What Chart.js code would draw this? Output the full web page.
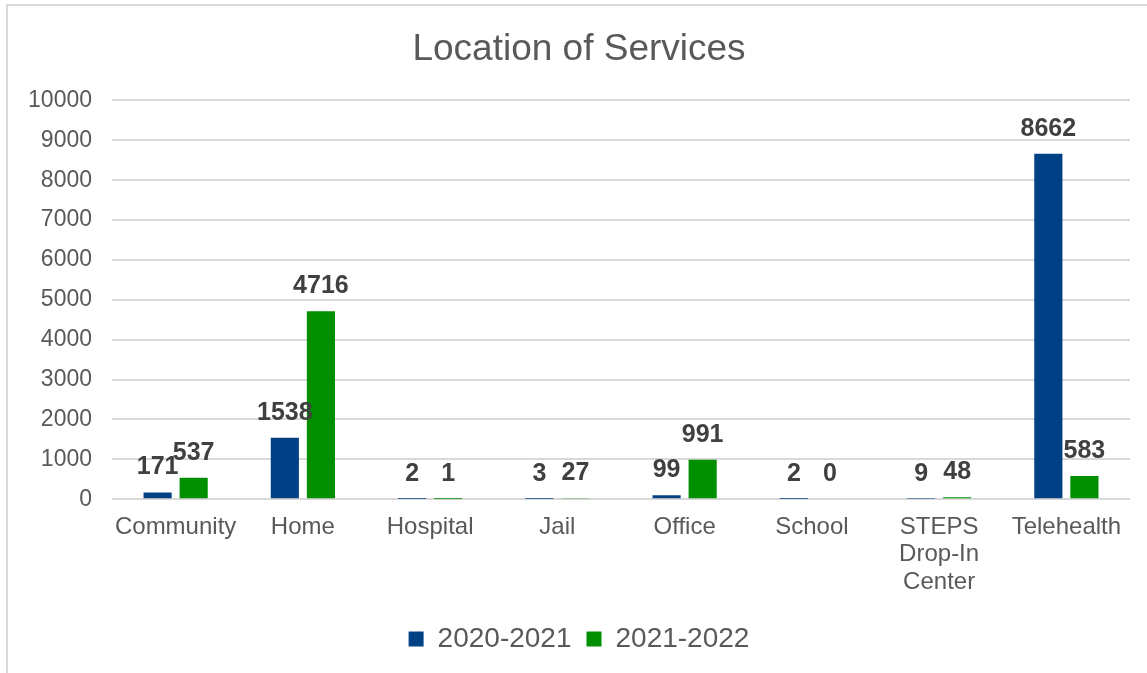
<!DOCTYPE html>
<html>
<head>
<meta charset="utf-8">
<script src="https://cdn.jsdelivr.net/npm/chart.js@4.4.1/dist/chart.umd.min.js"></script>
<style>
  html, body { margin: 0; padding: 0; background: #fff; overflow: hidden; }
  #frame {
    position: absolute; left: 6px; top: 4px; width: 1200px; height: 720px;
    border-left: 2px solid #d9d9d9; border-top: 2px solid #d9d9d9;
  }
  #chart { position: absolute; left: 0; top: 0; }
</style>
</head>
<body>
<div id="frame"></div>
<canvas id="chart" width="1147" height="673"></canvas>
<script>
// locations and visit counts per fiscal year
const locations = ['Community', 'Home', 'Hospital', 'Jail', 'Office', 'School', ['STEPS', 'Drop-In', 'Center'], 'Telehealth'];
const year2021 = [171, 1538, 2, 3, 99, 2, 9, 8662];
const year2022 = [537, 4716, 1, 27, 991, 0, 48, 583];
const seriesNames = ['2020-2021', '2021-2022'];
const yTicks = [0, 1000, 2000, 3000, 4000, 5000, 6000, 7000, 8000, 9000, 10000];

const FONT = "'Liberation Sans', Arial, sans-serif";
const TEXT = '#595959';

// value labels above each bar
const barValues = {
  id: 'barValues',
  afterDatasetsDraw(chart) {
    const ctx = chart.ctx;
    ctx.save();
    ctx.font = 'bold 25px ' + FONT;
    ctx.fillStyle = '#404040';
    ctx.textAlign = 'center';
    ctx.textBaseline = 'alphabetic';
    chart.data.datasets.forEach((ds, i) => {
      chart.getDatasetMeta(i).data.forEach((bar, j) => {
        ctx.fillText(String(ds.data[j]), bar.x, bar.y - 18);
      });
    });
    ctx.restore();
  }
};

new Chart(document.getElementById('chart'), {
  type: 'bar',
  data: {
    labels: locations,
    datasets: [
      { label: seriesNames[0], data: year2021, backgroundColor: '#004186' },
      { label: seriesNames[1], data: year2022, backgroundColor: '#008F00' }
    ]
  },
  options: {
    responsive: false,
    animation: false,
    layout: { padding: { left: 28, right: 17, top: 0, bottom: 10 } },
    datasets: { bar: { categoryPercentage: 0.567, barPercentage: 0.78 } },
    plugins: {
      title: {
        display: true,
        text: 'Location of Services',
        color: TEXT,
        font: { family: FONT, size: 37, weight: 'normal' },
        padding: { top: 28, bottom: 28 }
      },
      legend: {
        position: 'bottom',
        labels: {
          color: TEXT,
          font: { family: FONT, size: 28 },
          boxWidth: 15,
          boxHeight: 15,
          padding: 15
        }
      },
      tooltip: { enabled: false }
    },
    scales: {
      x: {
        grid: { display: false, drawTicks: false },
        border: { display: false },
        ticks: {
          color: TEXT,
          font: { family: FONT, size: 24, lineHeight: 1.15 },
          padding: 14,
          maxRotation: 0,
          autoSkip: false
        }
      },
      y: {
        min: 0,
        max: 10000,
        afterBuildTicks(scale) {
          scale.ticks = yTicks.map(v => ({ value: v }));
        },
        afterFit(scale) {
          scale.width = 84;
        },
        grid: { color: '#d9d9d9', lineWidth: 2, drawTicks: false },
        border: { display: false },
        ticks: {
          color: TEXT,
          font: { family: FONT, size: 23 },
          padding: 20,
          callback: v => String(v)
        }
      }
    }
  },
  plugins: [barValues]
});
</script>
</body>
</html>
